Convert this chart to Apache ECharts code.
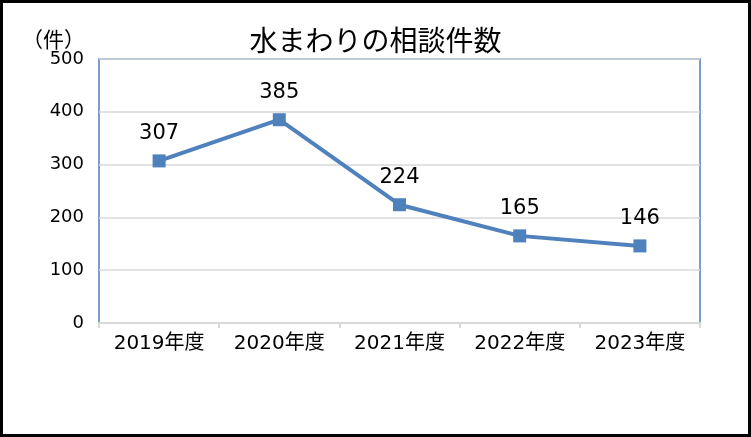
<!DOCTYPE html>
<html><head><meta charset="utf-8">
<script src="https://cdn.jsdelivr.net/npm/echarts@6/dist/echarts.min.js"></script>
<style>
html,body{margin:0;padding:0;background:#fff;}
#frame{position:absolute;left:0;top:0;width:751px;height:437px;box-sizing:border-box;border:3px solid #000;}
#c{position:absolute;left:0;top:0;width:751px;height:437px;}
</style></head>
<body>
<div id="c"></div>
<div id="frame"></div>
<script>
const categories = ['2019年度','2020年度','2021年度','2022年度','2023年度'];
const values = [307, 385, 224, 165, 146];
const yTicks = [0, 100, 200, 300, 400, 500];
const font = '"DejaVu Sans", "Noto Sans CJK JP", sans-serif';
const cjk = '"Noto Sans CJK JP", sans-serif';
const chart = echarts.init(document.getElementById('c'), null, {renderer:'canvas'});
chart.setOption({
  animation:false,
  title:{text:'水まわりの相談件数', left:'center', top:21, textStyle:{fontFamily:cjk, fontSize:28, fontWeight:'normal', color:'#000'}},
  graphic:[{type:'text', left:22, top:29, style:{text:'（件）', font:'21px ' + cjk, fill:'#000'}}],
  grid:{left:99, right:51, top:59, bottom:114, show:true, borderColor:'#4f7fbf', borderWidth:1.5, backgroundColor:'#fff'},
  xAxis:{type:'category', data:categories, boundaryGap:true,
    axisLine:{lineStyle:{color:'#d9d9d9', width:2}},
    axisTick:{show:true, length:5, lineStyle:{color:'#d9d9d9', width:2}},
    axisLabel:{fontFamily:font, fontSize:20, color:'#000', margin:11}},
  yAxis:{type:'value', min:0, max:500, interval:100,
    axisLine:{show:false}, axisTick:{show:false},
    splitLine:{lineStyle:{color:'#d9d9d9', width:1.5}},
    axisLabel:{fontFamily:font, fontSize:18, color:'#000', margin:15,
      formatter: v => yTicks.includes(v) ? String(v) : ''}},
  series:[{type:'line', data:values, symbol:'rect', symbolSize:13,
    lineStyle:{color:'#4f81bd', width:4}, itemStyle:{color:'#4f81bd'},
    label:{show:true, position:'top', distance:10, fontFamily:font, fontSize:21, color:'#000'}}]
});
</script>
</body></html>
